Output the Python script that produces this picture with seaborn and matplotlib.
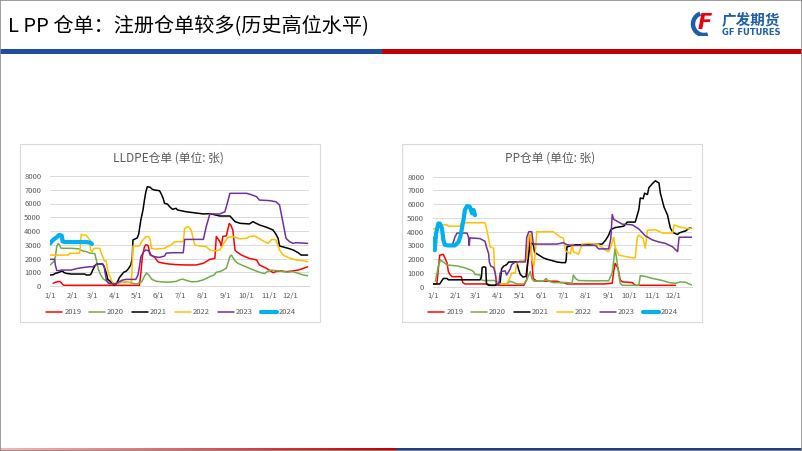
import numpy as np
import pandas as pd
import matplotlib
matplotlib.use("Agg")
import matplotlib.pyplot as plt
from matplotlib.lines import Line2D
from matplotlib.patches import Rectangle, Arc
from matplotlib.colors import LinearSegmentedColormap
import seaborn as sns

sns.set_style("white")
plt.rcParams['font.family'] = ['Noto Sans CJK SC', 'DejaVu Sans']

# ---------------- data (day of year, warehouse receipts) ----------------
years = ["2019", "2020", "2021", "2022", "2023", "2024"]
colors = ["#FF0000", "#70AD47", "#000000", "#FFC000", "#7030A0", "#00B0F0"]
month_ticks = [0, 31, 59, 90, 120, 151, 181, 212, 243, 273, 304, 334]
month_labels = ["1/1", "2/1", "3/1", "4/1", "5/1", "6/1", "7/1", "8/1", "9/1", "10/1", "11/1", "12/1"]
y_ticks = [0, 1000, 2000, 3000, 4000, 5000, 6000, 7000, 8000]

# LLDPE
l19_d = [4,7,11,14,17,19,60,90,124,126,128,131,133,136,138,140,145,150,158,165,177,190,203,213,222,229,231,236,238,240,245,249,251,254,257,259,266,277,287,291,301,310,314,321,328,338,345,352,358]
l19_v = [200,270,320,320,120,50,50,50,50,900,2100,2850,3000,2950,2500,2250,2100,1750,1650,1600,1550,1530,1530,1650,1940,2000,3600,3220,2900,3600,3650,4550,4450,4070,2620,2500,2250,2000,1900,1530,1280,970,1050,1100,1040,1100,1160,1280,1400]
l20_d = [0,2,5,7,9,11,13,15,20,30,40,45,50,55,62,64,67,70,74,80,88,95,100,110,120,127,131,134,137,141,147,155,165,175,180,184,190,197,205,213,222,228,231,236,240,245,248,250,252,256,261,272,281,291,298,302,307,318,330,337,345,352,358]
l20_v = [1530,1650,1770,2100,2900,3100,2950,2750,2740,2740,2700,2550,2500,2400,2350,1900,1200,800,500,300,150,200,300,250,150,300,700,950,800,500,350,300,280,330,450,500,400,300,330,450,680,800,1000,1050,1150,1300,1800,2150,2250,1900,1650,1400,1200,1000,900,1050,1150,1100,1000,1050,920,800,750]
l21_d = [0,4,7,11,14,17,19,22,29,48,50,55,57,59,62,64,69,73,75,78,80,84,87,89,92,94,96,99,102,106,109,112,114,115,118,121,123,124,126,129,131,133,135,139,142,145,152,154,157,159,163,166,170,175,177,189,213,222,236,250,257,264,277,282,291,301,310,314,317,319,331,338,345,349,358]
l21_v = [800,820,920,970,1040,1090,980,920,870,870,800,800,900,1160,1450,1580,1600,1600,1400,920,480,320,190,70,180,360,600,800,990,1090,1280,1530,2010,3350,3420,3500,3780,4120,4800,5530,6250,6860,7220,7180,7030,6980,6930,6740,6380,6010,5960,5770,5580,5650,5530,5400,5240,5260,5090,5090,4680,4560,4510,4680,4440,4270,4070,3760,3470,2910,2740,2620,2420,2250,2250]
l22_d = [0,25,27,41,43,45,50,52,55,56,58,61,69,71,73,75,78,79,81,84,86,89,94,99,103,108,113,115,119,124,127,131,133,137,139,141,145,159,163,168,173,185,187,192,196,201,208,217,222,229,236,243,247,254,264,273,277,284,291,298,303,308,314,319,324,331,342,352,358]
l22_v = [2250,2250,2380,2380,3760,3700,3700,3540,3350,2620,2500,2740,2740,2380,2130,1840,1800,1400,920,560,320,150,240,320,320,260,320,2910,2910,2910,3220,3470,3590,3590,3350,2740,2690,2740,2860,2980,3220,3220,4190,4320,4070,2980,2910,2860,2620,2550,2620,3220,3540,3590,3440,3470,3590,3640,3440,3220,3100,3390,3350,2620,2250,2080,1890,1840,1770]
l23_d = [0,6,7,9,13,15,29,38,48,55,59,63,65,72,75,76,78,81,87,92,96,101,106,119,122,124,126,130,133,137,139,145,152,159,161,168,185,187,213,217,222,236,243,245,250,273,277,287,291,305,314,319,324,328,333,338,342,358]
l23_v = [1940,1940,1530,1120,1120,1160,1160,1280,1360,1400,1400,1530,1600,1600,1450,1040,440,190,150,190,320,440,480,480,800,1400,2130,2500,2620,2560,2250,2130,2080,2180,2380,2420,2420,3390,3390,4320,5240,5240,5400,5770,6740,6740,6690,6500,6250,6210,6130,5890,4560,3470,3220,3100,3150,3100]
l24_d = [0,2,4,6,8,10,12,14,16,17,20,30,40,50,56,58]
l24_v = [3100,3250,3350,3450,3500,3600,3700,3700,3650,3250,3200,3200,3200,3200,3150,3050]

# PP
p19_d = [0,5,7,9,14,16,19,21,23,26,39,41,44,75,80,126,130,132,135,137,139,144,172,177,181,186,237,249,251,253,257,260,263,277,281,337]
p19_v = [200,200,1300,2300,2350,2100,1750,1100,900,730,730,300,200,200,100,100,500,2500,3800,2000,600,400,400,300,300,200,200,250,1100,1700,1350,500,350,300,100,100]
p20_d = [3,7,10,14,19,35,37,42,53,56,58,65,67,70,86,88,91,93,102,107,112,116,126,130,135,137,140,153,157,160,167,186,193,195,198,202,216,244,249,253,256,260,263,286,288,295,305,319,328,337,344,351,356,360]
p20_v = [400,1500,1950,1800,1580,1500,1450,1400,1200,1100,900,850,500,450,450,200,100,200,200,400,300,200,200,500,1100,600,400,400,600,400,300,300,250,850,600,450,430,430,1000,2800,1700,250,100,100,800,750,600,450,300,250,350,320,200,120]
p21_d = [0,9,12,14,19,21,65,67,68,71,73,74,77,86,88,93,95,98,102,105,116,119,121,125,129,132,135,139,141,147,153,158,165,172,179,184,185,186,198,216,235,240,244,247,253,265,270,281,286,288,292,294,298,300,305,309,314,316,321,326,328,330,333,335,340,342,347,351,356,360]
p21_v = [200,200,450,600,600,500,500,700,1400,1450,1400,200,100,100,200,300,1300,1500,1600,1800,1800,1200,900,700,750,2000,3200,3100,2500,2300,2100,2000,1900,1800,1750,1750,2000,2900,3050,3050,3100,3400,3750,4150,4300,4400,4700,4700,5600,6450,6400,6800,6700,7200,7500,7700,7550,6800,5800,5200,4700,4250,4000,3900,3800,3900,4000,4050,4250,4300]
p22_d = [0,5,7,19,21,37,39,72,75,77,79,84,85,87,89,91,102,105,107,109,114,116,121,128,130,133,135,137,140,142,144,167,172,177,181,184,191,193,195,202,207,216,230,240,244,247,251,253,258,267,277,281,284,286,292,295,298,309,319,333,335,342,356,360]
p22_v = [4200,4200,4500,4500,4400,4400,4650,4650,4000,3500,2900,2800,1500,800,300,200,200,500,700,1000,1000,1700,1900,1900,2000,3700,3800,2000,1500,2500,4000,4000,3800,3600,3550,2600,2400,3100,2550,2350,3100,3150,3050,2650,2550,2900,3600,2900,2300,2200,2100,2100,3600,3750,3500,2800,4100,4150,3900,3900,4500,4350,4200,4300]
p23_d = [27,30,33,47,49,50,51,65,72,74,77,78,80,84,86,88,91,93,95,100,102,105,107,109,114,128,130,133,137,139,140,172,181,186,195,226,230,244,247,249,251,258,263,277,286,295,305,314,323,333,340,342,360]
p23_v = [3100,3600,3900,3900,3600,3000,3550,3500,3300,2900,2400,1800,1500,1400,1000,250,100,1000,1100,1150,850,1100,1300,1600,1800,1800,3600,4000,4000,3200,3100,3100,3200,3050,3000,3000,2750,2750,3500,5250,4900,4700,4550,4500,4200,3700,3400,3250,3150,2900,2550,3600,3600]
p24_d = [0,1,2,4,7,9,12,14,16,20,23,30,35,38,40,42,44,47,51,54,56,58]
p24_v = [3500,3000,2650,3900,4600,4600,4250,3400,3050,3000,3000,3000,3250,3700,4300,4850,5580,5870,5800,5330,5580,5200]

lldpe = [(l19_d, l19_v), (l20_d, l20_v), (l21_d, l21_v), (l22_d, l22_v), (l23_d, l23_v), (l24_d, l24_v)]
pp = [(p19_d, p19_v), (p20_d, p20_v), (p21_d, p21_v), (p22_d, p22_v), (p23_d, p23_v), (p24_d, p24_v)]

W, H = 802, 451
fig = plt.figure(figsize=(W / 100, H / 100), dpi=100)

def fx(px):
    return px / W

def fy(py):
    return 1 - py / H

TXT = "#595959"
GRID = "#D9D9D9"

def draw_chart(series, left_px, right_px, top_px, bottom_px, title, title_cx, legend_cx, frame):
    fig.patches.append(Rectangle((fx(frame[0]), fy(frame[3])), fx(frame[2] - frame[0]), (frame[3] - frame[1]) / H,
                                 transform=fig.transFigure, fill=False, edgecolor=GRID, linewidth=0.8, zorder=0))
    ax = fig.add_axes([fx(left_px), fy(bottom_px), fx(right_px - left_px), (bottom_px - top_px) / H])
    for (d, v), yr, c in zip(series, years, colors):
        df = pd.DataFrame({"day": d, "val": v})
        lw = 3.0 if yr == "2024" else 1.1
        sns.lineplot(data=df, x="day", y="val", ax=ax, color=c, linewidth=lw,
                     estimator=None, sort=False, legend=False,
                     zorder=5 if yr == "2024" else 3)
    ax.set_xlim(0, 360)
    ax.set_ylim(0, 8000)
    ax.set_yticks(y_ticks)
    ax.set_yticklabels([str(t) for t in y_ticks])
    ax.set_xticks(month_ticks)
    ax.set_xticklabels(month_labels)
    ax.tick_params(axis="both", length=0, labelsize=5.5, labelcolor=TXT)
    ax.tick_params(axis="y", pad=6.5)
    ax.tick_params(axis="x", pad=4)
    ax.grid(axis="y", color=GRID, linewidth=0.7)
    ax.grid(axis="x", visible=False)
    for s in ["top", "right", "left"]:
        ax.spines[s].set_visible(False)
    ax.spines["bottom"].set_color(GRID)
    ax.spines["bottom"].set_linewidth(0.7)
    ax.set_xlabel("")
    ax.set_ylabel("")
    ax.set_facecolor("none")
    fig.text(fx(title_cx), fy(158), title, ha="center", va="center", fontsize=8.5, color=TXT)
    handles = [Line2D([0], [0], color=c, linewidth=(3.0 if yr == "2024" else 1.1)) for yr, c in zip(years, colors)]
    fig.legend(handles, years, loc="center", bbox_to_anchor=(fx(legend_cx), fy(312.5)), ncol=6,
               frameon=False, fontsize=5.5, handlelength=2.1, handletextpad=0.3, columnspacing=1.0,
               labelcolor=TXT, borderaxespad=0)
    return ax

draw_chart(lldpe, 50.3, 309.0, 176.0, 286.0, "LLDPE仓单 (单位: 张)", 168, 171.0, (20, 144, 320, 322))
draw_chart(pp, 433.3, 692.0, 176.7, 286.7, "PP仓单 (单位: 张)", 550, 553.0, (402, 144, 702, 322))

# ---------------- slide decorations ----------------
fig.text(fx(8), fy(27), "L PP 仓单：注册仓单较多(历史高位水平)", ha="left", va="center",
         fontsize=14.5, color="#000000")

# header stripe
fig.patches.append(Rectangle((0, fy(54)), fx(382), 5 / H, transform=fig.transFigure,
                             facecolor="#1E4E9C", edgecolor="none", zorder=1))
fig.patches.append(Rectangle((fx(382), fy(54)), fx(W - 382), 5 / H, transform=fig.transFigure,
                             facecolor="#C00000", edgecolor="none", zorder=1))

# footer stripe (red gradient then blue)
gax = fig.add_axes([0, 0, fx(396), 3 / H])
grad = np.linspace(0, 1, 256).reshape(1, -1)
cmap = LinearSegmentedColormap.from_list("rg", ["#F4B8B8", "#C00000"])
gax.imshow(grad, aspect="auto", cmap=cmap, extent=[0, 1, 0, 1])
gax.axis("off")
fig.patches.append(Rectangle((fx(396), 0), fx(W - 396), 3 / H, transform=fig.transFigure,
                             facecolor="#1F3F80", edgecolor="none", zorder=1))

# logo
logo_ax = fig.add_axes([fx(690), fy(36), fx(26), 26 / H])
logo_ax.set_xlim(0, 26)
logo_ax.set_ylim(0, 26)
logo_ax.axis("off")
logo_ax.add_patch(Arc((14, 12), 22, 22, theta1=110, theta2=290, color="#1F5EA8", linewidth=3.2))
logo_ax.text(15, 13, "F", color="#E60012", fontsize=15, fontweight="bold", fontstyle="italic",
             ha="center", va="center", family="DejaVu Sans")
fig.text(fx(722), fy(20.5), "广发期货", ha="left", va="center", fontsize=10.5, fontweight="bold",
         color="#1F5EA8")
fig.text(fx(722.5), fy(32.5), "GF FUTURES", ha="left", va="center", fontsize=6.0, fontweight="bold",
         color="#1F5EA8", family="DejaVu Sans")

# slide border
fig.patches.append(Rectangle((0, 0), 1, 1, transform=fig.transFigure, fill=False,
                             edgecolor="#8C8C8C", linewidth=1.2, zorder=10))

fig.savefig("out.png", dpi=100)
